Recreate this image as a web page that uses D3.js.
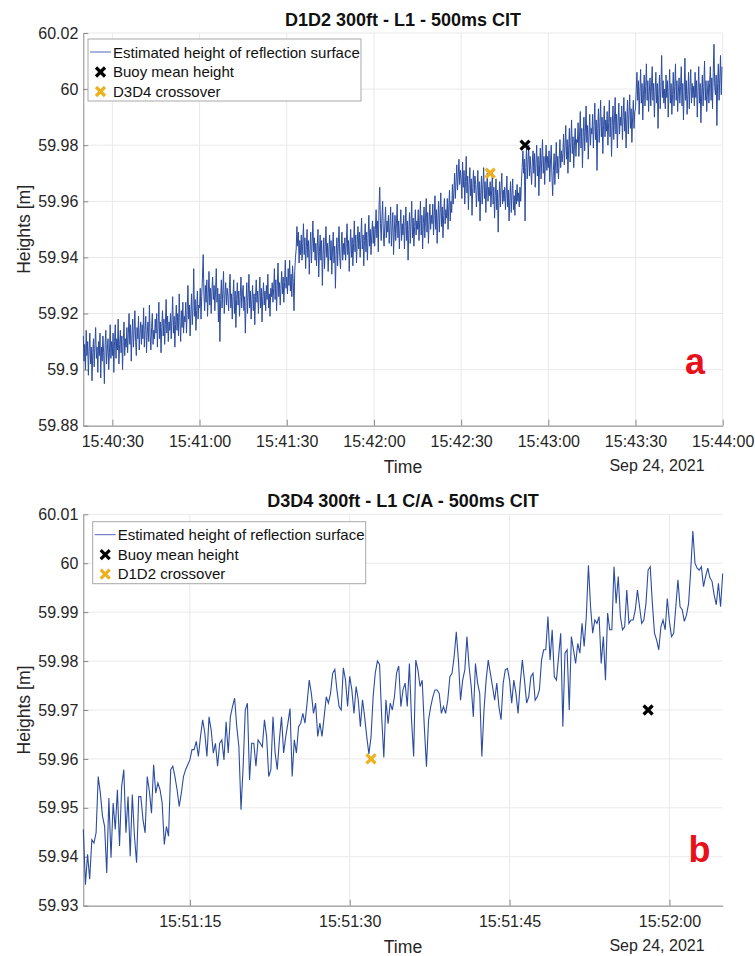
<!DOCTYPE html>
<html>
<head>
<meta charset="utf-8">
<script src="https://cdn.jsdelivr.net/npm/d3@7"></script>
<style>
  body { margin: 0; background: #fff; }
  text { font-family: "Liberation Sans", Arial, sans-serif; }
</style>
</head>
<body>
<script>
// ---- panel a : D1D2, 250 ms samples from 15:40:20 (one row = 5 s) ----
const startA = "2021-09-24T15:40:20Z"
const stepA = 250 // ms
const heightsA = [
  59.912, 59.903, 59.909, 59.900, 59.914, 59.905, 59.910, 59.898, 59.907, 59.913, 59.902, 59.908, 59.896, 59.906, 59.911, 59.901, 59.909, 59.915, 59.904, 59.908,
  59.899, 59.910, 59.905, 59.913, 59.897, 59.908, 59.903, 59.912, 59.906, 59.895, 59.909, 59.914, 59.902, 59.907, 59.911, 59.900, 59.906, 59.916, 59.904, 59.910,
  59.905, 59.913, 59.899, 59.910, 59.916, 59.904, 59.911, 59.907, 59.918, 59.902, 59.909, 59.914, 59.906, 59.912, 59.900, 59.910, 59.917, 59.905, 59.911, 59.908,
  59.915, 59.906, 59.913, 59.920, 59.909, 59.916, 59.903, 59.912, 59.918, 59.908, 59.914, 59.921, 59.910, 59.905, 59.915, 59.911, 59.919, 59.907, 59.913, 59.917,
  59.909, 59.916, 59.911, 59.922, 59.908, 59.914, 59.919, 59.906, 59.913, 59.917, 59.910, 59.923, 59.912, 59.907, 59.915, 59.920, 59.909, 59.914, 59.911, 59.918,
  59.913, 59.920, 59.908, 59.916, 59.924, 59.911, 59.917, 59.906, 59.915, 59.921, 59.912, 59.918, 59.909, 59.916, 59.925, 59.913, 59.919, 59.910, 59.917, 59.914,
  59.920, 59.911, 59.918, 59.926, 59.913, 59.919, 59.908, 59.916, 59.923, 59.914, 59.920, 59.912, 59.927, 59.917, 59.910, 59.921, 59.915, 59.924, 59.913, 59.919,
  59.917, 59.924, 59.913, 59.921, 59.930, 59.918, 59.923, 59.912, 59.920, 59.927, 59.916, 59.922, 59.936, 59.919, 59.925, 59.914, 59.921, 59.928, 59.918, 59.923,
  59.922, 59.929, 59.918, 59.926, 59.933, 59.941, 59.927, 59.921, 59.930, 59.924, 59.932, 59.919, 59.927, 59.935, 59.923, 59.929, 59.920, 59.928, 59.933, 59.925,
  59.930, 59.921, 59.928, 59.936, 59.924, 59.929, 59.917, 59.927, 59.910, 59.925, 59.932, 59.922, 59.928, 59.935, 59.920, 59.927, 59.931, 59.923, 59.929, 59.926,
  59.921, 59.929, 59.934, 59.922, 59.927, 59.918, 59.926, 59.932, 59.920, 59.928, 59.915, 59.925, 59.931, 59.923, 59.928, 59.919, 59.926, 59.933, 59.922, 59.927,
  59.930, 59.921, 59.926, 59.913, 59.924, 59.931, 59.920, 59.927, 59.934, 59.922, 59.928, 59.918, 59.925, 59.930, 59.921, 59.927, 59.916, 59.926, 59.932, 59.924,
  59.928, 59.920, 59.927, 59.933, 59.922, 59.929, 59.917, 59.926, 59.931, 59.923, 59.928, 59.921, 59.930, 59.925, 59.934, 59.922, 59.927, 59.919, 59.929, 59.926,
  59.931, 59.924, 59.929, 59.936, 59.925, 59.932, 59.921, 59.930, 59.938, 59.926, 59.931, 59.923, 59.929, 59.935, 59.927, 59.933, 59.924, 59.931, 59.939, 59.929,
  59.933, 59.927, 59.936, 59.930, 59.939, 59.928, 59.934, 59.926, 59.937, 59.931, 59.921, 59.935, 59.940, 59.943, 59.951, 59.944, 59.949, 59.938, 59.946, 59.941,
  59.948, 59.939, 59.945, 59.952, 59.941, 59.947, 59.936, 59.944, 59.950, 59.940, 59.946, 59.934, 59.943, 59.949, 59.938, 59.945, 59.953, 59.942, 59.947, 59.939,
  59.945, 59.937, 59.944, 59.950, 59.933, 59.942, 59.948, 59.939, 59.946, 59.930, 59.941, 59.947, 59.936, 59.944, 59.951, 59.940, 59.945, 59.935, 59.943, 59.948,
  59.939, 59.946, 59.934, 59.943, 59.949, 59.938, 59.944, 59.929, 59.941, 59.947, 59.937, 59.945, 59.951, 59.940, 59.936, 59.944, 59.949, 59.939, 59.945, 59.941,
  59.947, 59.939, 59.945, 59.952, 59.941, 59.946, 59.935, 59.944, 59.950, 59.940, 59.947, 59.937, 59.945, 59.953, 59.942, 59.948, 59.938, 59.945, 59.951, 59.943,
  59.949, 59.940, 59.947, 59.954, 59.943, 59.948, 59.937, 59.946, 59.952, 59.942, 59.949, 59.939, 59.947, 59.955, 59.944, 59.950, 59.941, 59.948, 59.953, 59.945,
  59.951, 59.944, 59.950, 59.957, 59.947, 59.953, 59.942, 59.958, 59.965, 59.952, 59.946, 59.954, 59.960, 59.948, 59.944, 59.952, 59.958, 59.947, 59.953, 59.949,
  59.955, 59.945, 59.951, 59.958, 59.944, 59.950, 59.956, 59.941, 59.949, 59.955, 59.946, 59.952, 59.959, 59.947, 59.953, 59.943, 59.951, 59.957, 59.946, 59.952,
  59.948, 59.955, 59.943, 59.951, 59.958, 59.946, 59.953, 59.939, 59.950, 59.956, 59.945, 59.952, 59.960, 59.947, 59.954, 59.944, 59.951, 59.957, 59.948, 59.953,
  59.950, 59.957, 59.946, 59.953, 59.960, 59.948, 59.955, 59.943, 59.952, 59.958, 59.947, 59.954, 59.961, 59.949, 59.956, 59.945, 59.953, 59.959, 59.950, 59.955,
  59.952, 59.959, 59.948, 59.955, 59.962, 59.950, 59.957, 59.945, 59.954, 59.960, 59.949, 59.956, 59.963, 59.951, 59.958, 59.947, 59.955, 59.961, 59.952, 59.957,
  59.954, 59.961, 59.950, 59.958, 59.964, 59.953, 59.960, 59.956, 59.966, 59.959, 59.963, 59.970, 59.961, 59.967, 59.973, 59.964, 59.969, 59.975, 59.966, 59.971,
  59.968, 59.961, 59.974, 59.965, 59.971, 59.959, 59.967, 59.976, 59.963, 59.969, 59.957, 59.966, 59.972, 59.962, 59.968, 59.955, 59.965, 59.971, 59.963, 59.969,
  59.966, 59.958, 59.964, 59.971, 59.960, 59.967, 59.953, 59.963, 59.969, 59.959, 59.966, 59.972, 59.961, 59.967, 59.956, 59.964, 59.970, 59.960, 59.965, 59.962,
  59.967, 59.958, 59.964, 59.970, 59.959, 59.965, 59.954, 59.962, 59.968, 59.957, 59.964, 59.949, 59.961, 59.967, 59.958, 59.965, 59.970, 59.959, 59.964, 59.960,
  59.965, 59.957, 59.963, 59.969, 59.958, 59.964, 59.953, 59.961, 59.967, 59.956, 59.963, 59.968, 59.957, 59.962, 59.955, 59.964, 59.959, 59.966, 59.960, 59.963,
  59.958, 59.965, 59.960, 59.967, 59.972, 59.978, 59.970, 59.975, 59.953, 59.972, 59.979, 59.968, 59.974, 59.980, 59.969, 59.976, 59.971, 59.966, 59.974, 59.978,
  59.970, 59.977, 59.965, 59.974, 59.980, 59.969, 59.976, 59.962, 59.973, 59.979, 59.968, 59.975, 59.982, 59.970, 59.976, 59.966, 59.974, 59.980, 59.971, 59.976,
  59.972, 59.978, 59.967, 59.974, 59.980, 59.969, 59.962, 59.971, 59.977, 59.966, 59.974, 59.981, 59.970, 59.976, 59.968, 59.975, 59.982, 59.972, 59.978, 59.974,
  59.977, 59.984, 59.973, 59.980, 59.987, 59.975, 59.982, 59.970, 59.979, 59.986, 59.974, 59.981, 59.989, 59.977, 59.983, 59.972, 59.980, 59.986, 59.976, 59.982,
  59.981, 59.988, 59.976, 59.984, 59.992, 59.979, 59.986, 59.972, 59.983, 59.990, 59.978, 59.985, 59.994, 59.981, 59.987, 59.975, 59.984, 59.991, 59.980, 59.986,
  59.984, 59.991, 59.979, 59.987, 59.995, 59.982, 59.989, 59.971, 59.986, 59.993, 59.981, 59.988, 59.996, 59.983, 59.990, 59.977, 59.987, 59.994, 59.983, 59.989,
  59.985, 59.992, 59.980, 59.988, 59.996, 59.983, 59.990, 59.976, 59.987, 59.994, 59.982, 59.989, 59.997, 59.984, 59.991, 59.979, 59.988, 59.995, 59.984, 59.990,
  59.987, 59.994, 59.982, 59.990, 59.997, 59.985, 59.992, 59.979, 59.989, 59.996, 59.984, 59.991, 59.998, 59.986, 59.993, 59.981, 59.990, 59.996, 59.986, 59.992,
  59.993, 60.000, 60.006, 59.996, 60.003, 59.991, 59.999, 60.007, 59.995, 60.002, 59.989, 59.998, 60.005, 59.994, 60.001, 60.009, 59.996, 60.003, 59.992, 59.999,
  60.004, 59.994, 60.001, 60.008, 59.996, 60.002, 59.990, 59.999, 60.006, 59.995, 60.002, 59.986, 59.998, 60.005, 59.993, 60.001, 60.012, 59.997, 60.003, 59.995,
  60.000, 59.993, 60.005, 59.997, 60.003, 59.990, 59.999, 60.007, 59.995, 60.002, 59.991, 59.998, 60.006, 59.994, 60.001, 60.009, 59.996, 60.003, 59.992, 59.999,
  60.004, 59.995, 60.001, 60.008, 59.994, 60.002, 59.989, 59.999, 60.011, 59.996, 60.003, 59.991, 59.998, 60.006, 59.993, 60.001, 60.007, 59.995, 60.002, 59.997,
  60.001, 59.994, 60.006, 59.997, 60.003, 59.990, 59.999, 60.008, 59.995, 60.002, 59.988, 59.998, 60.005, 59.994, 60.001, 60.010, 59.996, 60.003, 59.992, 59.999,
  60.003, 59.995, 60.002, 60.008, 59.996, 60.004, 59.993, 60.006, 60.016, 60.001, 59.998, 60.005, 59.987, 60.002, 60.009, 59.996, 60.004, 60.012, 59.998, 60.008
]
const buoyA = ["2021-09-24T15:42:52Z", 59.980]
const crossA = ["2021-09-24T15:42:40Z", 59.970]
const xTicksA = ["15:40:30", "15:41:00", "15:41:30", "15:42:00", "15:42:30", "15:43:00", "15:43:30", "15:44:00"]
const yTicksA = [59.88, 59.90, 59.92, 59.94, 59.96, 59.98, 60.00, 60.02]

// ---- panel b : D3D4, 200 ms samples from 15:51:05 ----
const startB = "2021-09-24T15:51:05Z"
const stepB = 200 // ms
const heightsB = [
  59.9456, 59.9343, 59.9405, 59.9354, 59.9435, 59.9428, 59.9449, 59.9564, 59.9530, 59.9483,
  59.9462, 59.9367, 59.9520, 59.9398, 59.9510, 59.9456, 59.9537, 59.9422, 59.9544, 59.9578,
  59.9449, 59.9523, 59.9401, 59.9527, 59.9442, 59.9388, 59.9523, 59.9523, 59.9476, 59.9449,
  59.9564, 59.9534, 59.9489, 59.9588, 59.9530, 59.9551, 59.9537, 59.9510, 59.9425, 59.9462,
  59.9442, 59.9578, 59.9585, 59.9564, 59.9537, 59.9503, 59.9530, 59.9564, 59.9578, 59.9588,
  59.9598, 59.9619, 59.9619, 59.9636, 59.9605, 59.9646, 59.9680, 59.9653, 59.9605, 59.9686,
  59.9659, 59.9612, 59.9632, 59.9585, 59.9632, 59.9639, 59.9598, 59.9676, 59.9612, 59.9686,
  59.9707, 59.9724, 59.9666, 59.9625, 59.9496, 59.9585, 59.9700, 59.9714, 59.9557, 59.9632,
  59.9632, 59.9585, 59.9639, 59.9632, 59.9625, 59.9680, 59.9646, 59.9564, 59.9578, 59.9686,
  59.9612, 59.9578, 59.9639, 59.9686, 59.9612, 59.9646, 59.9673, 59.9703, 59.9564, 59.9639,
  59.9612, 59.9666, 59.9673, 59.9693, 59.9673, 59.9714, 59.9761, 59.9734, 59.9693, 59.9714,
  59.9646, 59.9673, 59.9646, 59.9686, 59.9727, 59.9714, 59.9734, 59.9775,
  59.9783, 59.9741, 59.9707, 59.9700, 59.9786, 59.9762, 59.9707, 59.9769, 59.9741, 59.9693,
  59.9748, 59.9721, 59.9666, 59.9721, 59.9686, 59.9645, 59.9610, 59.9645, 59.9728, 59.9776,
  59.9800, 59.9793, 59.9686, 59.9603, 59.9721, 59.9672, 59.9714, 59.9700, 59.9728, 59.9776,
  59.9790, 59.9707, 59.9741,
  59.9755, 59.9707, 59.9795, 59.9680, 59.9605, 59.9802, 59.9782, 59.9748, 59.9761, 59.9666,
  59.9584, 59.9680, 59.9707, 59.9727, 59.9741, 59.9741, 59.9734, 59.9693, 59.9707, 59.9693,
  59.9720, 59.9768, 59.9775, 59.9809, 59.9860, 59.9802, 59.9720, 59.9761, 59.9782, 59.9850,
  59.9789, 59.9748, 59.9686, 59.9795, 59.9755, 59.9734, 59.9605, 59.9700, 59.9761, 59.9802,
  59.9775, 59.9748, 59.9720, 59.9755, 59.9707, 59.9680, 59.9755, 59.9782, 59.9785, 59.9761,
  59.9714, 59.9761, 59.9734, 59.9693, 59.9755, 59.9802, 59.9761, 59.9714, 59.9727, 59.9768,
  59.9775, 59.9720, 59.9727, 59.9741, 59.9802, 59.9823, 59.9823, 59.9891, 59.9802, 59.9864,
  59.9768, 59.9761, 59.9809, 59.9857, 59.9666, 59.9816, 59.9823, 59.9700, 59.9850, 59.9823,
  59.9795, 59.9836, 59.9816, 59.9877, 59.9830, 59.9891, 59.9996, 59.9911, 59.9857, 59.9884,
  59.9877, 59.9891, 59.9795, 59.9850, 59.9761, 59.9898, 59.9864, 59.9864, 59.9993, 59.9918,
  59.9973, 59.9891, 59.9864, 59.9870, 59.9945, 59.9877, 59.9884, 59.9884, 59.9905, 59.9945,
  59.9911, 59.9877, 59.9884, 59.9918, 59.9986, 59.9993, 59.9918, 59.9857, 59.9843, 59.9823,
  59.9870, 59.9884, 59.9864, 59.9928, 59.9881, 59.9850, 59.9857, 59.9911, 59.9966, 59.9911,
  59.9905, 59.9881, 59.9894, 59.9918, 59.9986, 60.0066, 60.0000, 59.9990, 59.9986, 59.9993,
  59.9952, 59.9973, 59.9990, 59.9970, 59.9963, 59.9935, 59.9915, 59.9959, 59.9911, 59.9979
]
const buoyB = ["2021-09-24T15:51:58Z", 59.970]
const crossB = ["2021-09-24T15:51:32Z", 59.960]
const xTicksB = ["15:51:15", "15:51:30", "15:51:45", "15:52:00"]
const yTicksB = [59.93, 59.94, 59.95, 59.96, 59.97, 59.98, 59.99, 60.00, 60.01]

const W = 755, H = 956
const lineColor = "#2c4ca0"
const orange = "#edb120"
const parseTick = s => new Date("2021-09-24T" + s + "Z")
const fmtY = d => String(+d.toFixed(2))

const svg = d3.select("body").append("svg")
  .attr("width", W)
  .attr("height", H)

function drawPanel(p) {
  const t0 = new Date(p.start)
  const pts = p.heights.map((h, i) => [new Date(+t0 + i * p.step), h])

  const x = d3.scaleUtc().domain(p.xDomain.map(s => new Date(s))).range([p.left, p.right])
  const y = d3.scaleLinear().domain(p.yDomain).range([p.bottom, p.top])
  const xt = p.xTicks.map(parseTick)

  const g = svg.append("g")

  // grid
  g.append("g").selectAll("line").data(xt).join("line")
    .attr("x1", d => x(d)).attr("x2", d => x(d))
    .attr("y1", p.top).attr("y2", p.bottom)
    .attr("stroke", "#e9e9e9")
  g.append("g").selectAll("line").data(p.yTicks).join("line")
    .attr("x1", p.left).attr("x2", p.right)
    .attr("y1", d => y(d)).attr("y2", d => y(d))
    .attr("stroke", "#e9e9e9")

  // axes (ticks point inward like matlab)
  const ax = g.append("g")
    .attr("transform", `translate(0,${p.bottom})`)
    .call(d3.axisBottom(x).tickValues(xt).tickFormat(d3.utcFormat("%H:%M:%S"))
      .tickSizeInner(-6).tickSizeOuter(0).tickPadding(10))
  const ay = g.append("g")
    .attr("transform", `translate(${p.left},0)`)
    .call(d3.axisLeft(y).tickValues(p.yTicks).tickFormat(fmtY)
      .tickSizeInner(-5).tickSizeOuter(0).tickPadding(5))
  for (const a of [ax, ay]) {
    a.select(".domain").attr("stroke", "#8a8a8a")
    a.selectAll(".tick line").attr("stroke", "#8a8a8a")
    a.selectAll(".tick text").attr("fill", "#262626").style("font-size", "16px")
  }

  // data line
  const line = d3.line().x(d => x(d[0])).y(d => y(d[1]))
  g.append("path")
    .datum(pts)
    .attr("fill", "none")
    .attr("stroke", lineColor)
    .attr("stroke-width", p.lineWidth)
    .attr("d", line)

  const cross = (sel, cx, cy, color) => sel.append("path")
    .attr("d", "M-4.5,-4.5L4.5,4.5M-4.5,4.5L4.5,-4.5")
    .attr("transform", `translate(${cx},${cy})`)
    .attr("stroke", color)
    .attr("stroke-width", 3.2)

  cross(g, x(new Date(p.cross[0])), y(p.cross[1]), orange)
  cross(g, x(new Date(p.buoy[0])), y(p.buoy[1]), "#000")

  // titles and labels
  g.append("text")
    .attr("x", (p.left + p.right) / 2).attr("y", p.top - 7)
    .attr("text-anchor", "middle")
    .style("font-size", "18px").style("font-weight", "bold")
    .attr("fill", "#111")
    .text(p.title)
  g.append("text")
    .attr("transform", `translate(30,${(p.top + p.bottom) / 2}) rotate(-90)`)
    .attr("text-anchor", "middle")
    .style("font-size", "17.6px")
    .attr("fill", "#262626")
    .text("Heights [m]")
  g.append("text")
    .attr("x", (p.left + p.right) / 2).attr("y", p.bottom + 47)
    .attr("text-anchor", "middle")
    .style("font-size", "17.6px")
    .attr("fill", "#262626")
    .text("Time")
  g.append("text")
    .attr("x", 657).attr("y", p.bottom + 45)
    .attr("text-anchor", "middle")
    .style("font-size", "16px")
    .attr("fill", "#262626")
    .text("Sep 24, 2021")
  g.append("text")
    .attr("x", p.tag.x).attr("y", p.tag.y)
    .attr("text-anchor", "middle")
    .style("font-size", "36px").style("font-weight", "bold")
    .attr("fill", "#e8101a")
    .text(p.tag.text)

  // legend
  const lg = g.append("g").attr("transform", `translate(${p.legend.x},${p.legend.y})`)
  lg.append("rect")
    .attr("width", 273).attr("height", 62)
    .attr("fill", "#fff").attr("stroke", "#a8a8a8").attr("stroke-width", 1)
  lg.append("line")
    .attr("x1", 2).attr("x2", 23).attr("y1", 13).attr("y2", 13)
    .attr("stroke", "#5566bb").attr("stroke-width", 1)
  cross(lg, 12.5, 33, "#000")
  cross(lg, 12.5, 52.5, orange)
  const rows = ["Estimated height of reflection surface", "Buoy mean height", p.crossLabel]
  lg.selectAll("text.lab").data(rows).join("text")
    .attr("class", "lab")
    .attr("x", 25).attr("y", (d, i) => 18.5 + i * 19.5)
    .style("font-size", "15px")
    .attr("fill", "#111")
    .text(d => d)
}

drawPanel({
  title: "D1D2 300ft - L1 - 500ms CIT",
  start: startA, step: stepA, heights: heightsA, lineWidth: 1,
  xDomain: ["2021-09-24T15:40:20Z", "2021-09-24T15:44:00Z"],
  yDomain: [59.88, 60.02],
  xTicks: xTicksA, yTicks: yTicksA,
  buoy: buoyA, cross: crossA, crossLabel: "D3D4 crossover",
  left: 83.3, right: 722.7, top: 33, bottom: 425.7,
  legend: { x: 88, y: 39 },
  tag: { text: "a", x: 695, y: 374 }
})

drawPanel({
  title: "D3D4 300ft - L1 C/A - 500ms CIT",
  start: startB, step: stepB, heights: heightsB, lineWidth: 1.1,
  xDomain: ["2021-09-24T15:51:05Z", "2021-09-24T15:52:05Z"],
  yDomain: [59.93, 60.01],
  xTicks: xTicksB, yTicks: yTicksB,
  buoy: buoyB, cross: crossB, crossLabel: "D1D2 crossover",
  left: 83.3, right: 722.7, top: 514.3, bottom: 905.7,
  legend: { x: 92.7, y: 521.7 },
  tag: { text: "b", x: 699.5, y: 861.5 }
})
</script>
</body>
</html>
